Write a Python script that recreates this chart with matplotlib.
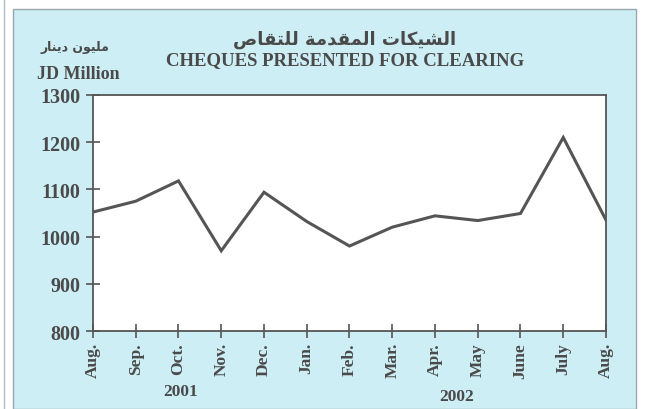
import matplotlib
matplotlib.use("Agg")
import matplotlib.pyplot as plt
from matplotlib.patches import Rectangle

# data
months = ['Aug.', 'Sep.', 'Oct.', 'Nov.', 'Dec.', 'Jan.', 'Feb.',
          'Mar.', 'Apr.', 'May', 'June', 'July', 'Aug.']
cheques = [1052, 1075, 1118, 970, 1094, 1032, 980,
           1020, 1044, 1034, 1049, 1210, 1035]
y_ticks = [800, 900, 1000, 1100, 1200, 1300]
years = ['2001', '2002']

title_ar = 'الشيكات المقدمة للتقاص'
title_en = 'CHEQUES PRESENTED FOR CLEARING'
unit_ar = 'مليون دينار'
unit_en = 'JD Million'

# matplotlib does no Arabic shaping, so pick the presentation forms by hand
# (isolated, final, initial, medial)
FORMS = {
    'ا': ('\uFE8D', '\uFE8E', None, None),
    'ل': ('\uFEDD', '\uFEDE', '\uFEDF', '\uFEE0'),
    'ش': ('\uFEB5', '\uFEB6', '\uFEB7', '\uFEB8'),
    'ي': ('\uFEF1', '\uFEF2', '\uFEF3', '\uFEF4'),
    'ك': ('\uFED9', '\uFEDA', '\uFEDB', '\uFEDC'),
    'ت': ('\uFE95', '\uFE96', '\uFE97', '\uFE98'),
    'م': ('\uFEE1', '\uFEE2', '\uFEE3', '\uFEE4'),
    'ق': ('\uFED5', '\uFED6', '\uFED7', '\uFED8'),
    'د': ('\uFEA9', '\uFEAA', None, None),
    'ة': ('\uFE93', '\uFE94', None, None),
    'ص': ('\uFEB9', '\uFEBA', '\uFEBB', '\uFEBC'),
    'و': ('\uFEED', '\uFEEE', None, None),
    'ن': ('\uFEE5', '\uFEE6', '\uFEE7', '\uFEE8'),
    'ر': ('\uFEAD', '\uFEAE', None, None),
}


def shape(text):
    words = []
    for word in text.split(' '):
        res = ''
        for i, ch in enumerate(word):
            iso, fin, ini, med = FORMS[ch]
            prev_joins = i > 0 and FORMS[word[i - 1]][2] is not None
            next_joins = i < len(word) - 1 and ini is not None
            if prev_joins and next_joins:
                res += med
            elif prev_joins:
                res += fin
            elif next_joins:
                res += ini
            else:
                res += iso
        words.append(res)
    return ' '.join(words)[::-1]


bg = '#cdeef5'
ink = '#4a4a4a'
serif = 'Liberation Serif'

fig = plt.figure(figsize=(6.47, 4.10), dpi=100)
fig.patch.set_facecolor('white')

# light blue panel with thin border, kept behind the axes
fig.patches.append(Rectangle((13 / 647, 0), 623 / 647, 400 / 410,
                             transform=fig.transFigure, facecolor=bg,
                             edgecolor='#9aa8ac', linewidth=1.0, zorder=-10))
fig.lines.append(plt.Line2D([4 / 647, 4 / 647], [0, 1], transform=fig.transFigure,
                            color='#b0bcc0', linewidth=1.0, zorder=-10))

ax = fig.add_axes([93 / 647, 1 - 332 / 410, 513 / 647, 236 / 410])
ax.set_zorder(1)
ax.set_facecolor('white')
ax.plot(range(len(months)), cheques, color='#555555', linewidth=2.2,
        solid_joinstyle='miter')

ax.set_xlim(0, len(months) - 1)
ax.set_ylim(800, 1300)
ax.set_yticks(y_ticks)
ax.set_xticks(range(len(months)))
ax.set_xticklabels(months, rotation=90, fontsize=12.5, fontweight='bold',
                   family=serif, color=ink)
ax.set_yticklabels([str(v) for v in y_ticks], fontsize=14.5, fontweight='bold',
                   family=serif, color=ink)
ax.tick_params(axis='both', direction='inout', length=10, width=1.2,
               color='#555555')
ax.tick_params(axis='x', pad=3)
ax.tick_params(axis='y', pad=4)
for s in ax.spines.values():
    s.set_color('#555555')
    s.set_linewidth(1.3)

fig.text(345 / 647, 1 - 40 / 410, shape(title_ar), ha='center', va='center',
         fontsize=13, fontweight='bold', family='DejaVu Sans', color=ink)
fig.text(345 / 647, 1 - 61 / 410, title_en, ha='center', va='center',
         fontsize=13.5, fontweight='bold', family=serif, color=ink)
fig.text(75 / 647, 1 - 47 / 410, shape(unit_ar), ha='center', va='center',
         fontsize=9, fontweight='bold', family='DejaVu Sans', color=ink)
fig.text(78 / 647, 1 - 75 / 410, unit_en, ha='center', va='center',
         fontsize=13, fontweight='bold', family=serif, color=ink)

fig.text(181 / 647, 1 - 392 / 410, years[0], ha='center', va='center',
         fontsize=12.5, fontweight='bold', family=serif, color=ink)
fig.text(457 / 647, 1 - 397 / 410, years[1], ha='center', va='center',
         fontsize=12.5, fontweight='bold', family=serif, color=ink)

fig.savefig('out.png', dpi=100)
